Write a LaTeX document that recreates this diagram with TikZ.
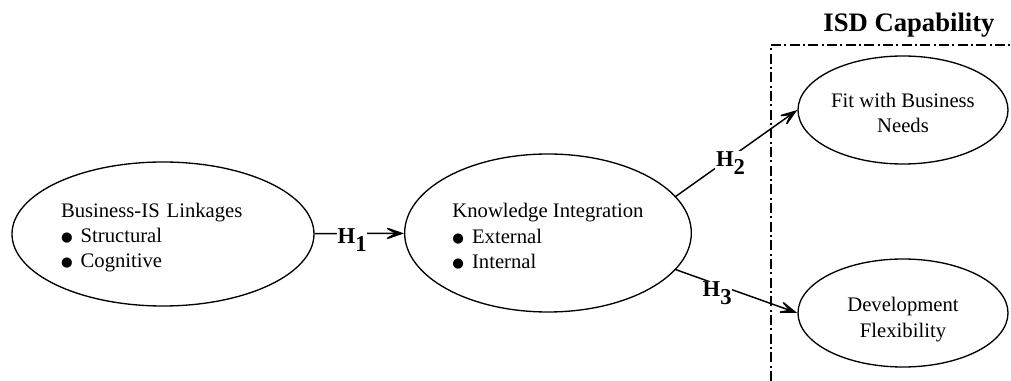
\documentclass[tikz,border=0pt]{standalone}
\usepackage{fontspec}
\setmainfont{Liberation Serif}
\newfontfamily\dotfont{DejaVu Sans}
\newcommand{\dotitem}{{\dotfont\fontsize{10}{19}\selectfont\raisebox{0.6pt}{●}}\hspace{6pt}}
\usetikzlibrary{shapes.geometric,arrows.meta}
\begin{document}
\begin{tikzpicture}[x=0.75pt,y=-0.75pt,>={Stealth[length=18pt,width=12.5pt,inset=11pt]},
  construct/.style={draw,ellipse,line width=1pt,inner sep=0pt,font=\fontsize{15.5}{19}\selectfont},
  hyp/.style={fill=white,inner sep=0.5pt,font=\fontsize{17}{19}\selectfont\bfseries},
  link/.style={->,line width=1.1pt},
  boundary/.style={line width=1pt,dash pattern=on 7.5pt off 2.5pt on 1.5pt off 2.5pt}]
  \useasboundingbox (0,0) rectangle (1011,381);

  \node[construct,minimum width=226.5pt,minimum height=108pt,align=left,text width=153pt,text height=16pt] (biz) at (163,234)
    {Business-IS Linkages\\ \dotitem Structural\\ \dotitem Cognitive};
  \node[construct,minimum width=215pt,minimum height=118.5pt,align=left,text height=54pt] (kno) at (548,233)
    {Knowledge Integration\\ \dotitem External\\ \dotitem Internal};
  \node[construct,minimum width=157.5pt,minimum height=81pt,align=center,text height=34.5pt] (fit) at (903,110)
    {Fit with Business\\Needs};
  \node[construct,minimum width=157.5pt,minimum height=81pt,align=center,text height=39.5pt] (dev) at (903,313)
    {Development\\Flexibility};

  % ISD capability frame
  \draw[boundary] (771,381) |- (1011,45);
  \node[font=\fontsize{20}{22}\selectfont\bfseries,anchor=base] (isd) at (909,32) {ISD Capability};

  \draw[link] (biz) -- node[hyp,pos=0.42,yshift=-5pt] {H\raisebox{-6pt}{1}} (kno);
  \draw[link] (kno.16) -- node[hyp,pos=0.45,yshift=-4.5pt] {H\raisebox{-6pt}{2}} (fit.west);
  \draw[link] (kno.-16) -- node[hyp,pos=0.34,yshift=-6.5pt] {H\raisebox{-6pt}{3}} (dev.west);
\end{tikzpicture}
\end{document}
